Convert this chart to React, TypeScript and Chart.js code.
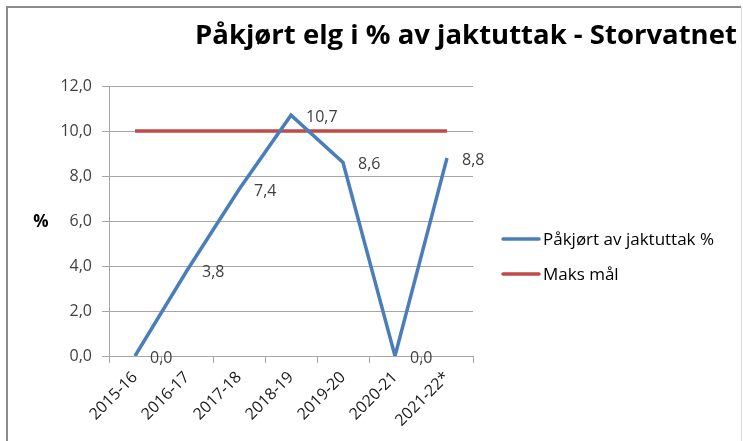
import React, { useEffect, useRef } from "react";
import { Chart, registerables } from "chart.js";

Chart.register(...registerables);

const seasons = ["2015-16", "2016-17", "2017-18", "2018-19", "2019-20", "2020-21", "2021-22*"];
const pakjortPct = [0.0, 3.8, 7.4, 10.7, 8.6, 0.0, 8.8];
const maksMal = [10, 10, 10, 10, 10, 10, 10];
const yTicks = [0, 2, 4, 6, 8, 10, 12];
const chartTitle = "Påkjørt elg i % av jaktuttak - Storvatnet";
const seriesNames = ["Påkjørt av jaktuttak %", "Maks mål"];
const yAxisTitle = "%";

const FONT = "'Open Sans', Lato, sans-serif";
const fmt = (v: number) => v.toFixed(1).replace(".", ",");

const extrasPlugin = {
  id: "extras",
  beforeDraw(chart: any) {
    const ctx = chart.ctx;
    ctx.save();
    ctx.fillStyle = "#ffffff";
    ctx.fillRect(0, 0, chart.width, chart.height);
    // frame
    ctx.strokeStyle = "#8c8c8c";
    ctx.lineWidth = 2;
    ctx.beginPath();
    ctx.moveTo(7, chart.height);
    ctx.lineTo(7, 7);
    ctx.lineTo(741, 7);
    ctx.stroke();
    ctx.strokeStyle = "#dcdcdc";
    ctx.lineWidth = 1;
    ctx.beginPath();
    ctx.moveTo(741.5, 7);
    ctx.lineTo(741.5, chart.height);
    ctx.stroke();
    ctx.restore();
  },
  afterDraw(chart: any) {
    const ctx = chart.ctx;
    ctx.save();
    // title (fit into the available width)
    ctx.fillStyle = "#000000";
    let size = 30;
    ctx.font = `bold ${size}px ${FONT}`;
    while (ctx.measureText(chartTitle).width > 543 && size > 10) {
      size -= 0.5;
      ctx.font = `bold ${size}px ${FONT}`;
    }
    ctx.textAlign = "left";
    ctx.textBaseline = "alphabetic";
    ctx.fillText(chartTitle, 195, 44);
    // y-axis title
    ctx.font = `bold 17px ${FONT}`;
    ctx.textAlign = "center";
    ctx.textBaseline = "middle";
    ctx.fillText(yAxisTitle, 41, 222);
    // data labels
    const meta = chart.getDatasetMeta(0);
    ctx.font = `16px ${FONT}`;
    ctx.fillStyle = "#404040";
    ctx.textAlign = "left";
    meta.data.forEach((pt: any, i: number) => {
      ctx.fillText(fmt(pakjortPct[i]), pt.x + 15, pt.y + 2);
    });
    // legend
    chart.data.datasets.forEach((ds: any, i: number) => {
      const y = 239 + i * 35;
      ctx.strokeStyle = ds.borderColor;
      ctx.lineWidth = 3.5;
      ctx.lineCap = "round";
      ctx.beginPath();
      ctx.moveTo(503, y);
      ctx.lineTo(539, y);
      ctx.stroke();
      ctx.fillStyle = "#000000";
      ctx.font = `17px ${FONT}`;
      ctx.textAlign = "left";
      ctx.textBaseline = "middle";
      ctx.fillText(ds.label, 543, y + 1);
    });
    ctx.restore();
  },
};

export default function App() {
  const ref = useRef<HTMLCanvasElement>(null);
  useEffect(() => {
    document.body.style.margin = "0";
    const chart = new Chart(ref.current as HTMLCanvasElement, {
      type: "line",
      data: {
        labels: seasons,
        datasets: [
          {
            label: seriesNames[0],
            data: pakjortPct,
            borderColor: "#4a7ebb",
            backgroundColor: "#4a7ebb",
            borderWidth: 3.5,
            pointRadius: 0,
            tension: 0,
          },
          {
            label: seriesNames[1],
            data: maksMal,
            borderColor: "#be4b48",
            backgroundColor: "#be4b48",
            borderWidth: 3.5,
            pointRadius: 0,
            tension: 0,
          },
        ],
      },
      options: {
        responsive: false,
        animation: false,
        devicePixelRatio: 1,
        layout: { padding: { top: 86, right: 270, left: 0, bottom: 0 } },
        plugins: { legend: { display: false }, tooltip: { enabled: false }, title: { display: false } },
        scales: {
          x: {
            offset: true,
            afterFit(scale: any) {
              scale.height = 85;
            },
            grid: { offset: true, drawOnChartArea: false, drawTicks: true, tickLength: 7, color: "#a6a6a6" },
            border: { color: "#a6a6a6" },
            ticks: {
              minRotation: 45,
              maxRotation: 45,
              autoSkip: false,
              padding: 5,
              color: "#1a1a1a",
              font: { family: FONT, size: 16 },
            },
          },
          y: {
            min: 0,
            max: 12,
            afterFit(scale: any) {
              scale.width = 109;
            },
            afterBuildTicks(scale: any) {
              scale.ticks = yTicks.map((v) => ({ value: v }));
            },
            grid: { color: "#a6a6a6", tickLength: 7 },
            border: { color: "#a6a6a6" },
            ticks: {
              padding: 10,
              color: "#404040",
              font: { family: FONT, size: 16 },
              callback: (v: any) => fmt(Number(v)),
            },
          },
        },
      },
      plugins: [extrasPlugin],
    });
    return () => chart.destroy();
  }, []);
  return (
    <div style={{ width: 743, height: 441 }}>
      <canvas ref={ref} width={743} height={441} style={{ display: "block" }} />
    </div>
  );
}
